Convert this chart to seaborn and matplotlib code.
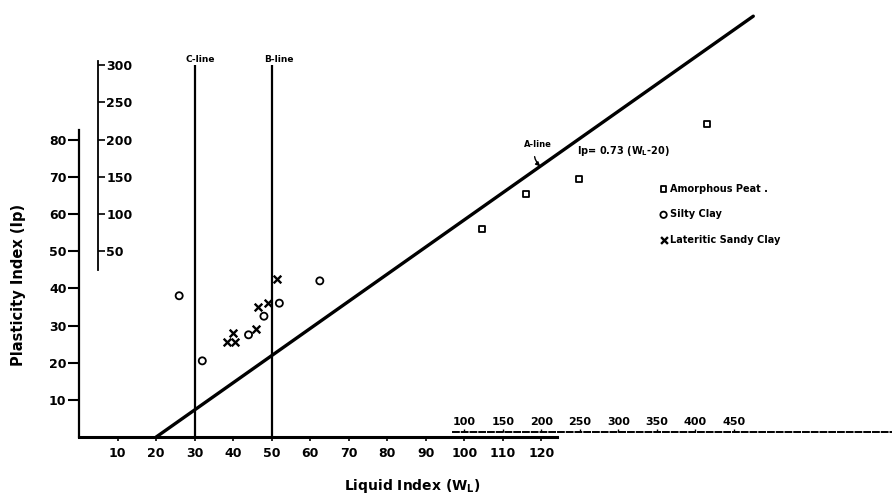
import numpy as np
import pandas as pd
import matplotlib
matplotlib.use("Agg")
import matplotlib.pyplot as plt
import seaborn as sns

# silty clay, read on the inner scales
silty_ll = [26, 32, 44, 48, 52, 62.5]
silty_pi = [38, 20.5, 27.5, 32.5, 36, 42]

# lateritic sandy clay, inner scales
lat_ll = [38.5, 40.5, 40, 46, 46.5, 49, 51.5]
lat_pi = [25.5, 25.5, 28, 29, 35, 36, 42.5]

# amorphous peat, read on the outer (100-450 / 50-300) scales
peat_ll = [123, 180, 249, 415]
peat_pi = [80, 127, 147, 221]

x_ticks = list(range(10, 130, 10))
y_ticks = list(range(10, 90, 10))
x2_ticks = [100, 150, 200, 250, 300, 350, 400, 450]
y2_ticks = [50, 100, 150, 200, 250, 300]

c_line = 30
b_line = 50
a_ll = np.array([20, 175])
a_pi = 0.73 * (a_ll - 20)


# outer scales -> inner scales
def x2_to_x(s):
    return 80 + np.asarray(s) / 5


def x_to_x2(x):
    return (np.asarray(x) - 80) * 5


def y2_to_y(s):
    return 40 + np.asarray(s) / 5


def y_to_y2(y):
    return (np.asarray(y) - 40) * 5


peat = pd.DataFrame({"LL": x2_to_x(peat_ll), "PI": y2_to_y(peat_pi)})
silty = pd.DataFrame({"LL": silty_ll, "PI": silty_pi})
lat = pd.DataFrame({"LL": lat_ll, "PI": lat_pi})

sns.set_style("ticks")
plt.rcParams["font.family"] = ["DejaVu Sans"]
plt.rcParams["font.weight"] = "bold"
plt.rcParams["axes.labelweight"] = "bold"
plt.rcParams["text.color"] = "black"
plt.rcParams["axes.labelcolor"] = "black"
plt.rcParams["xtick.color"] = "black"
plt.rcParams["ytick.color"] = "black"
plt.rcParams["axes.edgecolor"] = "black"
plt.rcParams["mathtext.default"] = "regular"

fig = plt.figure(figsize=(8.92, 4.97), dpi=100)
ax = fig.add_axes([0, 0, 1, 1])
xlim = (-20.5, 211)
ylim = (-16.1, 117.5)
ax.set_xlim(*xlim)
ax.set_ylim(*ylim)

sns.scatterplot(data=peat, x="LL", y="PI", marker="s", s=22, facecolors="none",
                edgecolors="black", linewidth=1.3, label="Amorphous Peat .", ax=ax)
sns.scatterplot(data=silty, x="LL", y="PI", marker="o", s=26, facecolors="none",
                edgecolors="black", linewidth=1.3, label="Silty Clay", ax=ax)
sns.scatterplot(data=lat, x="LL", y="PI", marker="x", s=30, color="black",
                linewidth=1.7, label="Lateritic Sandy Clay", ax=ax)

# A-line, C-line, B-line
sns.lineplot(x=a_ll, y=a_pi, color="black", linewidth=2.4, ax=ax)
ax.vlines([c_line, b_line], 0, 100, colors="black", linewidth=1.6)
ax.annotate("C-line", (c_line, 100), xytext=(4, 1), textcoords="offset points",
            ha="center", va="bottom", fontsize=6.5)
ax.annotate("B-line", (b_line, 100), xytext=(5, 1), textcoords="offset points",
            ha="center", va="bottom", fontsize=6.5)
ax.annotate("A-line", xy=(119.7, 0.73 * (119.7 - 20)), xytext=(119, 78.6),
            ha="center", va="center", fontsize=6,
            arrowprops=dict(arrowstyle="-|>", lw=1, color="black",
                            connectionstyle="arc3,rad=0.4", shrinkA=3, shrinkB=0))
ax.text(129.3, 76.9, "Ip= 0.73 (W$_L$-20)", fontsize=7, va="center")

# inner axes
ax.spines[["top", "right"]].set_visible(False)
ax.spines["left"].set_position(("data", 0))
ax.spines["bottom"].set_position(("data", 0))
ax.spines["left"].set_bounds(0, 82.5)
ax.spines["bottom"].set_bounds(0, 124)
ax.spines["left"].set_linewidth(1.6)
ax.spines["bottom"].set_linewidth(2.2)
ax.set_xticks(x_ticks)
ax.set_yticks(y_ticks)
ax.tick_params(axis="x", direction="out", length=3, width=1.2, pad=4, labelsize=9)
ax.tick_params(axis="y", direction="out", length=8, width=1.5, pad=1, labelsize=9)

ax.set_xlabel("Liquid Index (W$_L$)", fontsize=10, fontweight="bold")
ax.xaxis.set_label_coords(0.462, 0.04)
ax.set_ylabel("Plasticity Index (Ip)", fontsize=10.5, fontweight="bold")
ax.yaxis.set_label_coords(0.029, 0.4266)

# outer scales
loc_y2 = (4.9 - xlim[0]) / (xlim[1] - xlim[0])
sec_y = ax.secondary_yaxis(loc_y2, functions=(y_to_y2, y2_to_y))
sec_y.set_alignment("right")
sec_y.set_yticks(y2_ticks)
sec_y.spines["right"].set_bounds(25, 305)
sec_y.spines["right"].set_linewidth(1.3)
sec_y.tick_params(axis="y", length=5, width=1.2, pad=1, labelsize=9)

loc_x2 = (1.4 - ylim[0]) / (ylim[1] - ylim[0])
sec_x = ax.secondary_xaxis(loc_x2, functions=(x_to_x2, x2_to_x))
sec_x.set_alignment("top")
sec_x.set_xticks(x2_ticks)
sec_x.spines["top"].set_bounds(85, 655)
sec_x.spines["top"].set_linestyle((0, (3, 1.5)))
sec_x.spines["top"].set_linewidth(1.4)
sec_x.tick_params(axis="x", length=2, width=1, pad=1.5, labelsize=8)

ax.legend(loc="upper left", bbox_to_anchor=(0.733, 0.64), frameon=False,
          prop={"weight": "bold", "size": 7}, handletextpad=0.2,
          labelspacing=1.6, borderpad=0, handlelength=1, markerscale=0.9)

fig.savefig("out.png", dpi=100)
